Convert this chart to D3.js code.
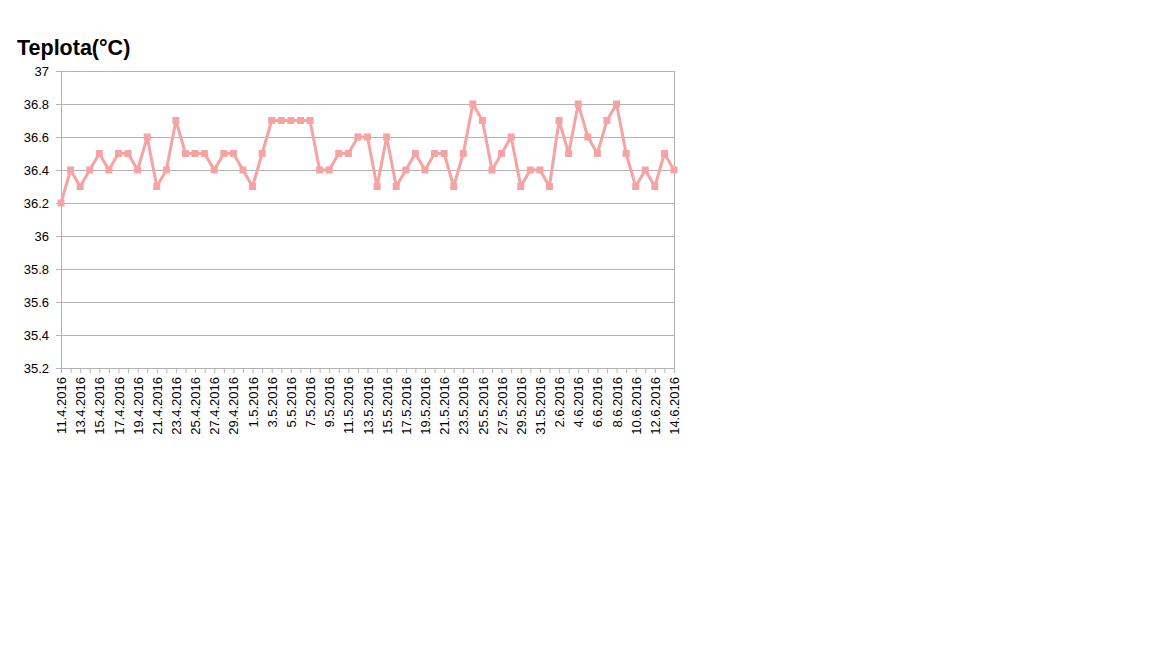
<!DOCTYPE html>
<html><head><meta charset="utf-8">
<script src="https://cdn.jsdelivr.net/npm/d3@7"></script>
<style>body{margin:0;background:#fff}svg{display:block}</style>
</head><body>
<script>
const categories = ["11.4.2016","12.4.2016","13.4.2016","14.4.2016","15.4.2016","16.4.2016","17.4.2016","18.4.2016","19.4.2016","20.4.2016","21.4.2016","22.4.2016","23.4.2016","24.4.2016","25.4.2016","26.4.2016","27.4.2016","28.4.2016","29.4.2016","30.4.2016","1.5.2016","2.5.2016","3.5.2016","4.5.2016","5.5.2016","6.5.2016","7.5.2016","8.5.2016","9.5.2016","10.5.2016","11.5.2016","12.5.2016","13.5.2016","14.5.2016","15.5.2016","16.5.2016","17.5.2016","18.5.2016","19.5.2016","20.5.2016","21.5.2016","22.5.2016","23.5.2016","24.5.2016","25.5.2016","26.5.2016","27.5.2016","28.5.2016","29.5.2016","30.5.2016","31.5.2016","1.6.2016","2.6.2016","3.6.2016","4.6.2016","5.6.2016","6.6.2016","7.6.2016","8.6.2016","9.6.2016","10.6.2016","11.6.2016","12.6.2016","13.6.2016","14.6.2016"];
const values = [36.2,36.4,36.3,36.4,36.5,36.4,36.5,36.5,36.4,36.6,36.3,36.4,36.7,36.5,36.5,36.5,36.4,36.5,36.5,36.4,36.3,36.5,36.7,36.7,36.7,36.7,36.7,36.4,36.4,36.5,36.5,36.6,36.6,36.3,36.6,36.3,36.4,36.5,36.4,36.5,36.5,36.3,36.5,36.8,36.7,36.4,36.5,36.6,36.3,36.4,36.4,36.3,36.7,36.5,36.8,36.6,36.5,36.7,36.8,36.5,36.3,36.4,36.3,36.5,36.4];
const yTicks = [35.2,35.4,35.6,35.8,36,36.2,36.4,36.6,36.8,37];
const title = "Teplota(°C)";

(function () {
const W = 1152, H = 648;
const mLeft = 61, mRight = 674, mTop = 71, mBottom = 368;
const font = "'Liberation Sans', Arial, sans-serif";

const svg = d3.select("body").append("svg").attr("width", W).attr("height", H);

const x = d3.scalePoint().domain(categories).range([mLeft, mRight]);
const y = d3.scaleLinear().domain([35.2, 37]).range([mBottom, mTop]);

svg.append("text").attr("x", 17).attr("y", 55).attr("font-family", font)
  .attr("font-size", 21.5).attr("font-weight", "bold").attr("fill", "#000").text(title);

svg.append("g").selectAll("line").data(yTicks).join("line")
  .attr("x1", mLeft - 5).attr("x2", mRight).attr("y1", d => y(d)).attr("y2", d => y(d))
  .attr("stroke", "#b3b3b3").attr("stroke-width", 1).attr("shape-rendering", "crispEdges");
svg.append("line").attr("x1", mRight).attr("x2", mRight).attr("y1", mTop).attr("y2", mBottom)
  .attr("stroke", "#b3b3b3").attr("shape-rendering", "crispEdges");

const yAxis = svg.append("g").attr("transform", `translate(${mLeft},0)`)
  .call(d3.axisLeft(y).tickValues(yTicks).tickSize(5).tickPadding(7).tickFormat(d => String(+d.toFixed(1))));
yAxis.select(".domain").attr("stroke", "#b3b3b3");
yAxis.selectAll(".tick line").attr("stroke", "#b3b3b3");
yAxis.selectAll("text").attr("font-family", font).attr("font-size", 13).attr("fill", "#000");

const xAxis = svg.append("g").attr("transform", `translate(0,${mBottom})`)
  .call(d3.axisBottom(x).tickSize(5).tickSizeOuter(0).tickFormat((d, i) => i % 2 === 0 ? d : ""));
xAxis.select(".domain").attr("stroke", "#b3b3b3");
xAxis.selectAll(".tick line").attr("stroke", "#b3b3b3");
xAxis.selectAll("text").attr("font-family", font).attr("font-size", 13).attr("fill", "#000")
  .attr("transform", "rotate(-90)").attr("text-anchor", "end")
  .attr("x", -9).attr("y", 0).attr("dy", "0.35em");

const color = "#f5a3a3";
const data = categories.map((c, i) => ({c, v: values[i]}));
svg.append("path").datum(data)
  .attr("d", d3.line().x(d => x(d.c)).y(d => y(d.v)))
  .attr("fill", "none").attr("stroke", color).attr("stroke-width", 3).attr("stroke-linejoin", "round");
svg.append("g").selectAll("rect").data(data).join("rect")
  .attr("x", d => x(d.c) - 3.5).attr("y", d => y(d.v) - 3.5).attr("width", 7).attr("height", 7)
  .attr("fill", color);
})();
</script>
</body></html>
